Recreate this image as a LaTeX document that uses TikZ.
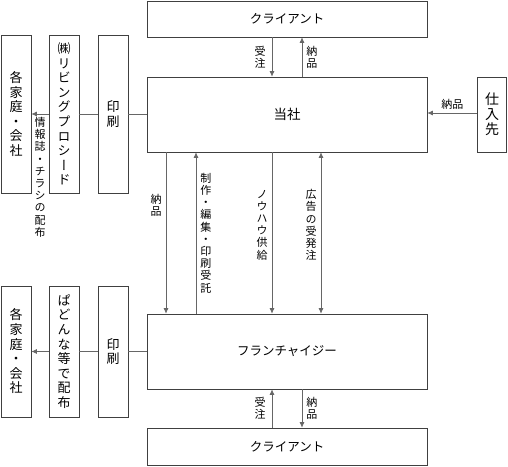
\documentclass[tikz,border=0pt]{standalone}
\usepackage{fontspec}
\setmainfont{Noto Sans CJK JP}
\newfontfamily\tatefont[RawFeature=+vert]{Noto Sans CJK JP}
\usetikzlibrary{arrows.meta}

\tikzset{
  box/.style={draw=black!75, line width=0.7pt, inner sep=0pt},
  hbox/.style={box, minimum width=280pt, font=\fontsize{12.5}{14}\selectfont},
  vbox/.style={box, minimum width=30pt, align=center, font=\tatefont\fontsize{13}{14.6}\selectfont},
  line/.style={draw=black!60, line width=0.7pt},
  arr/.style={line, -{Latex[length=5.5pt,width=5pt]}},
  darr/.style={line, {Latex[length=5.5pt,width=5pt]}-{Latex[length=5.5pt,width=5pt]}},
  lab/.style={align=center, inner sep=4pt, font=\tatefont\fontsize{11}{12.2}\selectfont},
}

\begin{document}
\begin{tikzpicture}[x=1pt,y=-1pt]
\useasboundingbox (0,0) rectangle (508,466);
% centre column
\node[hbox, minimum height=36pt] (cltop) at (287,19) {クライアント};
\node[hbox, minimum height=75pt, font=\fontsize{13.5}{15}\selectfont] (tosha) at (287,114.5) {当社};
\node[hbox, minimum height=75pt] (fc) at (287,351.5) {フランチャイジー};
\node[hbox, minimum height=37pt] (clbot) at (287,446.5) {クライアント};
\node[vbox, minimum width=29pt, minimum height=75pt, font=\tatefont\fontsize{14}{14.8}\selectfont] (shiire) at (492,114.5) {仕\\入\\先};

% left, upper row
\node[vbox, minimum height=158pt] (home1) at (16,114) {各\\家\\庭\\・\\会\\社};
\node[vbox, minimum height=158pt] (living) at (64,114) {㈱\\リ\\ビ\\ン\\グ\\プ\\ロ\\シ\\ー\\ド};
\node[vbox, minimum height=158pt] (print1) at (113,114) {印\\刷};

% left, lower row
\node[vbox, minimum height=131pt] (home2) at (16,351.5) {各\\家\\庭\\・\\会\\社};
\node[vbox, minimum height=131pt] (pado) at (64,351.5) {ぱ\\ど\\ん\\な\\等\\で\\配\\布};
\node[vbox, minimum height=131pt] (print2) at (113,351.5) {印\\刷};

% connectors, left
\draw[line] (print1.east) -- (print1.east -| tosha.west);
\draw[line] (print1.west) -- (living.east);
\draw[arr] (living.west) -- (home1.east)
  node[midway, below, lab, inner sep=3pt] {情\\報\\誌\\・\\チ\\ラ\\シ\\の\\配\\布};
\draw[line] (print2.east) -- (print2.east -| fc.west);
\draw[line] (print2.west) -- (pado.east);
\draw[arr] (pado.west) -- (home2.east);

% supplier
\draw[arr] (shiire.west |- 0,113) -- (tosha.east |- 0,113)
  node[midway, above, font=\fontsize{11}{12}\selectfont] {納品};

% client (top) <-> tosha
\draw[arr] ([xshift=-15pt]cltop.south) -- ([xshift=-15pt]tosha.north)
  node[midway, left, lab, xshift=-2pt] {受\\注};
\draw[arr] ([xshift=15pt]tosha.north) -- ([xshift=15pt]cltop.south)
  node[midway, right, lab] {納\\品};

% tosha <-> franchise
\draw[arr] ([xshift=-121pt]tosha.south) -- ([xshift=-121pt]fc.north)
  node[pos=0.33, left, lab] {納\\品};
\draw[arr] ([xshift=-91pt]fc.north) -- ([xshift=-91pt]tosha.south)
  node[midway, right, lab] {制\\作\\・\\編\\集\\・\\印\\刷\\受\\託};
\draw[arr] ([xshift=-15pt]tosha.south) -- ([xshift=-15pt]fc.north)
  node[pos=0.45, left, lab] {ノ\\ウ\\ハ\\ウ\\供\\給};
\draw[darr] ([xshift=34pt]tosha.south) -- ([xshift=34pt]fc.north)
  node[pos=0.45, left, lab] {広\\告\\の\\受\\発\\注};

% franchise <-> client (bottom)
\draw[arr] ([xshift=-15pt]clbot.north) -- ([xshift=-15pt]fc.south)
  node[midway, left, lab, xshift=-2pt] {受\\注};
\draw[arr] ([xshift=15pt]fc.south) -- ([xshift=15pt]clbot.north)
  node[midway, right, lab] {納\\品};
\end{tikzpicture}
\end{document}
